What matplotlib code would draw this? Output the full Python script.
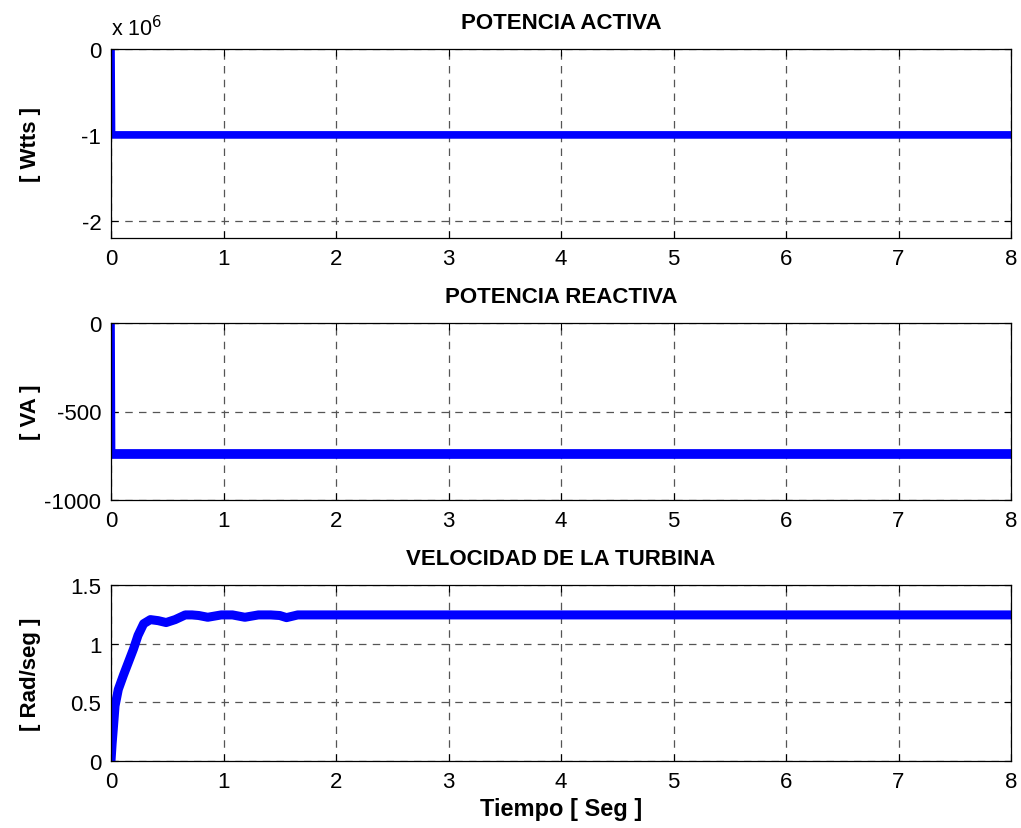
import matplotlib
matplotlib.use("Agg")
import matplotlib.pyplot as plt
from matplotlib.ticker import FuncFormatter
import numpy as np

plt.rcParams['font.family'] = ['Liberation Sans', 'DejaVu Sans']
plt.rcParams['axes.unicode_minus'] = False

# Active power [W]
t_p = [0.0, 0.005, 8.0]
p_w = [0.0, -1.0e6, -1.0e6]

# Reactive power [VA]
t_q = [0.0, 0.005, 8.0]
q_va = [0.0, -738.0, -738.0]

# Turbine speed [rad/s]
t_w = [0.0, 0.01, 0.02, 0.036, 0.065, 0.11, 0.154, 0.2, 0.24, 0.29, 0.35, 0.42,
       0.49, 0.57, 0.66, 0.72, 0.78, 0.86, 0.92, 0.98, 1.08, 1.19, 1.31, 1.42,
       1.5, 1.56, 1.66, 2.0, 3.0, 4.0, 5.0, 6.0, 7.0, 8.0]
w_rs = [0.0, 0.15, 0.27, 0.47, 0.61, 0.73, 0.84, 0.955, 1.07, 1.17, 1.205, 1.196,
        1.18, 1.205, 1.245, 1.245, 1.24, 1.225, 1.235, 1.245, 1.245, 1.225, 1.245, 1.245,
        1.24, 1.222, 1.245, 1.245, 1.245, 1.245, 1.245, 1.245, 1.245, 1.245]

titles = ['POTENCIA ACTIVA', 'POTENCIA REACTIVA', 'VELOCIDAD DE LA TURBINA']
ylabels = ['[ Wtts ]', '[ VA ]', '[ Rad/seg ]']

fig = plt.figure(figsize=(10.21, 8.29), dpi=100)
W, H = 1021, 829
left, right = 111 / W, 1011 / W
boxes = [(50, 239), (324, 501), (586, 762)]
axes = []
for (top, bot) in boxes:
    ax = fig.add_axes([left, 1 - bot / H, right - left, (bot - top) / H])
    axes.append(ax)

blue = '#0000ff'
axes[0].plot(t_p, p_w, color=blue, lw=5.5, solid_joinstyle='miter')
axes[1].plot(t_q, q_va, color=blue, lw=5.5, solid_joinstyle='miter')
axes[1].plot(t_q[1:], q_va[1:], color=blue, lw=7.0, solid_capstyle='butt')
axes[2].plot(t_w, w_rs, color=blue, lw=6.5, solid_joinstyle='round', solid_capstyle='butt')

axes[0].set_ylim(-2.2e6, 0)
axes[0].set_yticks([-2e6, -1e6, 0])
axes[0].yaxis.set_major_formatter(FuncFormatter(lambda v, p: f'{v/1e6:g}'))
axes[0].text(0.0, 1.045, r'x 10$^{6}$', transform=axes[0].transAxes,
             fontsize=15.5, ha='left', va='bottom')
axes[1].set_ylim(-1000, 0)
axes[1].set_yticks([-1000, -500, 0])
axes[2].set_ylim(0, 1.5)
axes[2].set_yticks([0, 0.5, 1, 1.5])
axes[2].yaxis.set_major_formatter(FuncFormatter(lambda v, p: f'{v:g}'))

for ax, ti, yl in zip(axes, titles, ylabels):
    ax.set_xlim(0, 8)
    ax.set_xticks(range(0, 9))
    ax.grid(True, color='#555555', linestyle=(0, (6, 5)), linewidth=0.9)
    ax.tick_params(direction='in', top=True, right=True, length=5,
                   labelsize=16, pad=7, width=0.8)
    ax.set_title(ti, fontsize=16, fontweight='bold', pad=15)
    ax.set_ylabel(yl, fontsize=16, fontweight='bold')
    for s in ax.spines.values():
        s.set_linewidth(0.9)
    ax.yaxis.set_label_coords(-0.078, 0.5)

axes[2].set_xlabel('Tiempo [ Seg ]', fontsize=17, fontweight='bold', labelpad=4)

fig.savefig('out.png', dpi=100)
